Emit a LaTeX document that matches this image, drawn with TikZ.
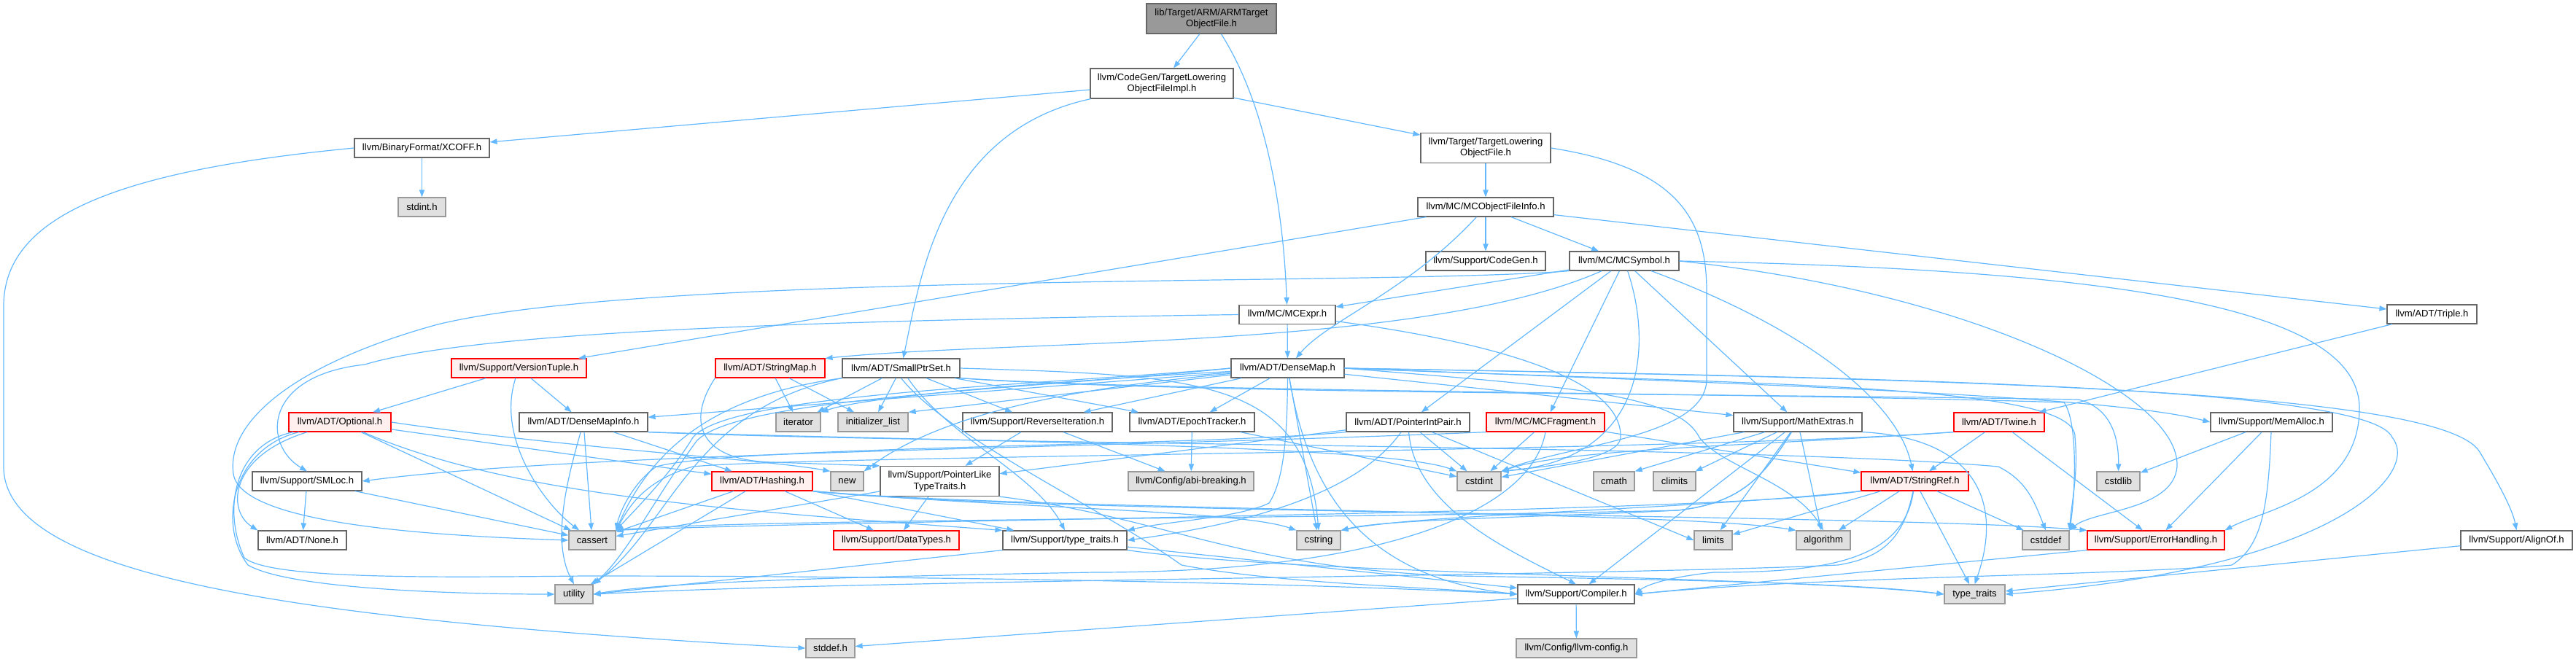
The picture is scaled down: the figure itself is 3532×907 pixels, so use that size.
\documentclass[tikz,border=0pt]{standalone}
\usepackage{fontspec}
\setmainfont{Liberation Sans}
\usetikzlibrary{arrows.meta}
\definecolor{edgec}{HTML}{63B8FF}
\definecolor{grayfill}{HTML}{E0E0E0}
\definecolor{graybord}{HTML}{999999}
\definecolor{redfill}{HTML}{FFF0F0}
\definecolor{whitebord}{HTML}{666666}
\definecolor{rootfill}{HTML}{999999}
\begin{document}
\begin{tikzpicture}[x=0.5pt,y=-0.5pt,
  base/.style={draw, line width=0.6pt, inner sep=0pt, minimum height=13pt, align=center, font=\fontsize{6.55}{7.6}\selectfont},
  wn/.style={base, draw=whitebord, fill=white},
  gn/.style={base, draw=graybord, fill=grayfill},
  rn/.style={base, draw=red, fill=redfill},
  rootn/.style={base, draw=whitebord, fill=rootfill},
  bw/.style={minimum width=#1*0.5pt},
  tall/.style={minimum height=20.5pt},
  ed/.style={draw=edgec, line width=0.6pt, -{Triangle[length=5pt,width=3.6pt]}}
]
\useasboundingbox (0,0) rectangle (3532,907);
% ---------------- nodes ----------------
\node[rootn,bw=178,tall] (root) at (1661,25.5) {lib/Target/ARM/ARMTarget\\ObjectFile.h};
\node[wn,bw=196,tall] (impl) at (1593,114.5) {llvm/CodeGen/TargetLowering\\ObjectFileImpl.h};
\node[wn,bw=185] (xcoff) at (578.5,203) {llvm/BinaryFormat/XCOFF.h};
\node[wn,bw=178,tall] (tlof) at (2037,203) {llvm/Target/TargetLowering\\ObjectFile.h};
\node[gn,bw=65] (stdint) at (578.5,284) {stdint.h};
\node[wn,bw=186] (mcofi) at (2037,284) {llvm/MC/MCObjectFileInfo.h};
\node[wn,bw=164] (cgen) at (2037,358) {llvm/Support/CodeGen.h};
\node[wn,bw=150] (mcsym) at (2227,358) {llvm/MC/MCSymbol.h};
\node[wn,bw=132] (mcexpr) at (1765,431.5) {llvm/MC/MCExpr.h};
\node[wn,bw=123] (triple) at (3334.5,431) {llvm/ADT/Triple.h};
\node[rn,bw=185] (vtuple) at (711.5,505) {llvm/Support/VersionTuple.h};
\node[rn,bw=150] (smap) at (1056,505) {llvm/ADT/StringMap.h};
\node[wn,bw=161] (sptr) at (1235.5,505) {llvm/ADT/SmallPtrSet.h};
\node[wn,bw=155] (dmap) at (1765.5,505) {llvm/ADT/DenseMap.h};
\node[rn,bw=140] (optional) at (466,579) {llvm/ADT/Optional.h};
\node[wn,bw=176] (dmi) at (800,579) {llvm/ADT/DenseMapInfo.h};
\node[gn,bw=61] (iterator) at (1094.5,579) {iterator};
\node[gn,bw=96] (initlist) at (1197,579) {initializer\_list};
\node[wn,bw=205] (reviter) at (1422.5,579) {llvm/Support/ReverseIteration.h};
\node[wn,bw=171] (epoch) at (1634.5,579) {llvm/ADT/EpochTracker.h};
\node[wn,bw=169] (pip) at (1930.5,579) {llvm/ADT/PointerIntPair.h};
\node[rn,bw=162] (mcfrag) at (2119,579) {llvm/MC/MCFragment.h};
\node[wn,bw=176] (mathx) at (2465,579) {llvm/Support/MathExtras.h};
\node[rn,bw=124] (twine) at (2741,579) {llvm/ADT/Twine.h};
\node[wn,bw=167] (memalloc) at (3114.5,579) {llvm/Support/MemAlloc.h};
\node[wn,bw=150] (smloc) at (421,660) {llvm/Support/SMLoc.h};
\node[rn,bw=138] (hashing) at (1045,660) {llvm/ADT/Hashing.h};
\node[gn,bw=45] (nnew) at (1161.5,660) {new};
\node[wn,bw=163,tall] (pltt) at (1288.5,660) {llvm/Support/PointerLike\\TypeTraits.h};
\node[gn,bw=172] (abi) at (1633,660) {llvm/Config/abi-breaking.h};
\node[gn,bw=60] (cstdint) at (2028,660) {cstdint};
\node[gn,bw=56] (cmath) at (2213,660) {cmath};
\node[gn,bw=58] (climits) at (2296,660) {climits};
\node[rn,bw=147] (stringref) at (2625.5,660) {llvm/ADT/StringRef.h};
\node[gn,bw=59] (cstdlib) at (2904.5,660) {cstdlib};
\node[wn,bw=121] (nonen) at (414.5,741) {llvm/ADT/None.h};
\node[gn,bw=64] (cassert) at (812,741) {cassert};
\node[rn,bw=172] (datatypes) at (1229,741) {llvm/Support/DataTypes.h};
\node[wn,bw=170] (sttraits) at (1460,741) {llvm/Support/type\_traits.h};
\node[gn,bw=60] (cstring) at (1808,741) {cstring};
\node[gn,bw=52] (limits) at (2349,741) {limits};
\node[gn,bw=74] (algorithm) at (2500,741) {algorithm};
\node[gn,bw=64] (cstddef) at (2805,741) {cstddef};
\node[rn,bw=188] (errh) at (2956,741) {llvm/Support/ErrorHandling.h};
\node[wn,bw=153] (alignof) at (3450.5,741) {llvm/Support/AlignOf.h};
\node[gn,bw=52] (utility) at (787,815) {utility};
\node[wn,bw=160] (compiler) at (2161,815) {llvm/Support/Compiler.h};
\node[gn,bw=83] (typetraits) at (2707.5,815) {type\_traits};
\node[gn,bw=67] (stddefh) at (1138.5,889) {stddef.h};
\node[gn,bw=165] (llvmconfig) at (2161.5,889) {llvm/Config/llvm-config.h};
% ---------------- edges ----------------
% root
\draw[ed] (root) -- (impl);
\draw[ed] (root) .. controls (1740,150) and (1760,300) .. (mcexpr);
% TLOF impl
\draw[ed] (impl) -- (xcoff);
\draw[ed] (impl) .. controls (1290,180) and (1262,380) .. (sptr);
\draw[ed] (impl) -- (tlof);
% XCOFF
\draw[ed] (xcoff) -- (stdint);
\draw[ed] (xcoff.west) .. controls (150,235) and (5,300) .. (5,420) -- (5,640) .. controls (5,790) and (400,850) .. (stddefh.west);
% TLOF
\draw[ed] (tlof) -- (mcofi);
\draw[ed] (tlof.east) .. controls (2300,230) and (2340,300) .. (2340,400) -- (2340,520) .. controls (2340,600) and (2150,610) .. (cstdint.north east);
% MCObjectFileInfo
\draw[ed] (mcofi) -- (vtuple);
\draw[ed] (mcofi) .. controls (1930,400) and (1820,440) .. (dmap);
\draw[ed] (mcofi) -- (cgen);
\draw[ed] (mcofi) -- (mcsym);
\draw[ed] (mcofi) -- (triple);
% MCSymbol
\draw[ed] (mcsym) -- (mcexpr);
\draw[ed] (mcsym) .. controls (1950,480) and (1400,465) .. (smap.north east);
\draw[ed] (mcsym) -- (pip);
\draw[ed] (mcsym) -- (mcfrag);
\draw[ed] (mcsym) .. controls (2265,470) and (2260,630) .. (cstdint.north east);
\draw[ed] (mcsym) -- (mathx);
\draw[ed] (mcsym) .. controls (2450,440) and (2600,540) .. (stringref);
\draw[ed] (mcsym.east) .. controls (2900,370) and (3235,420) .. (3235,560) .. controls (3235,680) and (3100,700) .. (errh.north east);
\draw[ed] (mcsym.east) .. controls (2700,400) and (2990,540) .. (2985,640) .. controls (2980,700) and (2870,700) .. (cstddef.north east);
\draw[ed] (mcsym.south west) .. controls (1900,392) and (900,372) .. (600,445) .. controls (400,500) and (310,580) .. (320,650) .. controls (330,720) and (600,735) .. (cassert.west);
% MCExpr
\draw[ed] (mcexpr) -- (dmap);
\draw[ed] (mcexpr.west) .. controls (1100,440) and (650,455) .. (500,500) .. controls (360,515) and (360,610) .. (smloc.north);
\draw[ed] (mcexpr) .. controls (2050,470) and (2225,520) .. (2222,600) .. controls (2220,630) and (2120,640) .. (cstdint.north east);
% Triple
\draw[ed] (triple) -- (twine);
% VersionTuple
\draw[ed] (vtuple) -- (optional);
\draw[ed] (vtuple) -- (dmi);
\draw[ed] (vtuple) .. controls (680,600) and (745,690) .. (cassert);
% StringMap
\draw[ed] (smap) -- (iterator);
\draw[ed] (smap) -- (initlist);
\draw[ed] (smap.south west) .. controls (940,580) and (960,632) .. (1060,634) .. controls (1120,636) and (1170,638) .. (pltt.north west);
% SmallPtrSet
\draw[ed] (sptr) -- (epoch);
\draw[ed] (sptr) -- (reviter);
\draw[ed] (sptr) -- (iterator);
\draw[ed] (sptr) -- (initlist);
\draw[ed] (sptr.south west) .. controls (1000,540) and (900,600) .. (cassert.north east);
\draw[ed] (sptr.east) .. controls (1650,515) and (1790,520) .. (cstring.north);
\draw[ed] (sptr.south east) .. controls (1600,540) and (2400,540) .. (2850,548) .. controls (2895,560) and (2905,600) .. (cstdlib);
\draw[ed] (sptr.south east) .. controls (1600,538) and (2400,538) .. (2830,552) .. controls (2850,580) and (2845,680) .. (cstddef.north east);
\draw[ed] (sptr.south west) .. controls (950,560) and (920,720) .. (utility.north east);
\draw[ed] (sptr.south) .. controls (1300,600) and (1500,690) .. (1620,775) .. controls (1750,800) and (1950,805) .. (compiler.west);
\draw[ed] (sptr) .. controls (1300,600) and (1420,650) .. (sttraits.north);
% DenseMap
\draw[ed] (dmap) -- (dmi);
\draw[ed] (dmap) -- (epoch);
\draw[ed] (dmap) -- (reviter);
\draw[ed] (dmap) -- (initlist.north east);
\draw[ed] (dmap) .. controls (1500,520) and (1200,540) .. (iterator.north east);
\draw[ed] (dmap) .. controls (1500,530) and (1300,560) .. (nnew.north east);
\draw[ed] (dmap.west) .. controls (1400,530) and (1000,540) .. (950,600) .. controls (920,650) and (870,700) .. (cassert.north east);
\draw[ed] (dmap.west) .. controls (1400,535) and (1010,545) .. (955,605) .. controls (900,680) and (860,760) .. (utility.north east);
\draw[ed] (dmap) -- (cstring);
\draw[ed] (dmap) .. controls (1790,650) and (1850,790) .. (compiler.west);
\draw[ed] (dmap) -- (mathx);
\draw[ed] (dmap.east) .. controls (2500,530) and (2900,545) .. (memalloc.west);
\draw[ed] (dmap.east) .. controls (2600,518) and (3250,530) .. (3280,600) .. controls (3320,650) and (3200,780) .. (typetraits.east);
\draw[ed] (dmap.east) .. controls (2700,520) and (3350,535) .. (3400,620) .. controls (3430,670) and (3445,700) .. (alignof.north);
\draw[ed] (dmap) .. controls (1765,600) and (1760,660) .. (1740,690) .. controls (1700,710) and (1600,715) .. (sttraits.north east);
\draw[ed] (dmap.east) .. controls (2150,530) and (2300,540) .. (2330,600) .. controls (2360,640) and (2460,660) .. (algorithm.north);
\draw[ed] (dmap.east) .. controls (2400,528) and (2850,525) .. (2845,600) .. controls (2850,650) and (2840,690) .. (cstddef.north east);
% Optional
\draw[ed] (optional) -- (hashing);
\draw[ed] (optional) .. controls (315,625) and (310,700) .. (nonen.north west);
\draw[ed] (optional) .. controls (320,610) and (305,700) .. (335,765) .. controls (370,795) and (600,792) .. (800,790) .. controls (1300,790) and (1800,800) .. (compiler.west);
\draw[ed] (optional) .. controls (700,680) and (1000,700) .. (sttraits.north west);
\draw[ed] (optional) -- (cassert);
\draw[ed] (optional.east) .. controls (780,615) and (1050,630) .. (nnew.north west);
\draw[ed] (optional) .. controls (318,615) and (298,720) .. (340,775) .. controls (400,810) and (650,815) .. (utility.west);
% DenseMapInfo
\draw[ed] (dmi) -- (hashing);
\draw[ed] (dmi) -- (cassert);
\draw[ed] (dmi) .. controls (780,650) and (755,740) .. (utility.north);
\draw[ed] (dmi.south east) .. controls (1300,605) and (1900,610) .. (cstdint.north west);
\draw[ed] (dmi.south east) .. controls (1300,610) and (2400,610) .. (2740,640) .. controls (2780,660) and (2790,690) .. (cstddef.north);
% ReverseIteration, EpochTracker
\draw[ed] (reviter) -- (pltt);
\draw[ed] (reviter) -- (abi);
\draw[ed] (epoch) -- (abi);
\draw[ed] (epoch) -- (cstdint);
% PointerIntPair
\draw[ed] (pip) -- (pltt);
\draw[ed] (pip) .. controls (1860,680) and (1700,720) .. (sttraits.east);
\draw[ed] (pip.south west) .. controls (1650,612) and (1000,612) .. (900,640) .. controls (870,660) and (850,700) .. (cassert.north east);
\draw[ed] (pip) -- (cstdint);
\draw[ed] (pip) .. controls (1940,700) and (2080,760) .. (compiler.north);
\draw[ed] (pip) -- (limits.west);
% MCFragment
\draw[ed] (mcfrag.south west) .. controls (1500,615) and (800,620) .. (smloc.east);
\draw[ed] (mcfrag) -- (stringref);
\draw[ed] (mcfrag) -- (cstdint);
\draw[ed] (mcfrag.south) .. controls (2100,700) and (1900,785) .. (1500,785) .. controls (1100,792) and (900,800) .. (utility.east);
% MathExtras
\draw[ed] (mathx) -- (compiler);
\draw[ed] (mathx) .. controls (2420,650) and (2390,690) .. (2300,700) .. controls (1800,712) and (1000,712) .. (cassert.north east);
\draw[ed] (mathx) -- (climits);
\draw[ed] (mathx) -- (cmath.north east);
\draw[ed] (mathx) -- (cstdint);
\draw[ed] (mathx) .. controls (2420,650) and (2390,690) .. (2300,700) .. controls (2100,710) and (1900,712) .. (cstring.north east);
\draw[ed] (mathx) -- (limits);
\draw[ed] (mathx.south east) .. controls (2700,600) and (2750,680) .. (typetraits.north);
\draw[ed] (mathx) -- (algorithm);
% Twine
\draw[ed] (twine) -- (stringref);
\draw[ed] (twine) -- (errh);
\draw[ed] (twine.south west) .. controls (2300,620) and (1100,625) .. (950,640) .. controls (880,660) and (860,700) .. (cassert.north east);
\draw[ed] (twine.south west) .. controls (2400,612) and (2150,615) .. (cstdint.north east);
% MemAlloc
\draw[ed] (memalloc) -- (cstdlib);
\draw[ed] (memalloc) -- (errh);
\draw[ed] (memalloc) .. controls (3110,700) and (3100,750) .. (3060,775) .. controls (2900,790) and (2500,790) .. (compiler.east);
% SMLoc
\draw[ed] (smloc) -- (nonen);
\draw[ed] (smloc) -- (cassert);
% Hashing
\draw[ed] (hashing) -- (datatypes);
\draw[ed] (hashing) -- (cassert);
\draw[ed] (hashing) -- (utility);
\draw[ed] (hashing) -- (sttraits);
\draw[ed] (hashing.south east) .. controls (1400,705) and (2600,705) .. (errh.north west);
\draw[ed] (hashing.south east) .. controls (1400,700) and (2300,700) .. (algorithm.north west);
\draw[ed] (hashing.south east) .. controls (1400,698) and (1700,700) .. (cstring.north west);
% PointerLikeTypeTraits
\draw[ed] (pltt) -- (datatypes);
\draw[ed] (pltt) -- (cassert);
\draw[ed] (pltt.south east) .. controls (1600,710) and (1700,780) .. (2000,790) .. controls (2300,795) and (2550,800) .. (typetraits.west);
% StringRef
\draw[ed] (stringref) .. controls (2610,770) and (2500,785) .. (2350,785) .. controls (2300,790) and (2260,800) .. (compiler.east);
\draw[ed] (stringref) -- (limits);
\draw[ed] (stringref) -- (algorithm);
\draw[ed] (stringref) -- (cstddef);
\draw[ed] (stringref) -- (typetraits);
\draw[ed] (stringref.south west) .. controls (2350,705) and (1200,712) .. (cassert.north east);
\draw[ed] (stringref.south west) .. controls (2300,700) and (1950,705) .. (cstring.north east);
\draw[ed] (stringref) .. controls (2610,740) and (2580,765) .. (2520,775) .. controls (2200,790) and (1200,795) .. (utility.east);
% ErrorHandling, AlignOf
\draw[ed] (errh.south west) -- (compiler.east);
\draw[ed] (alignof) -- (typetraits);
% Support/type_traits
\draw[ed] (sttraits) -- (compiler);
\draw[ed] (sttraits.south east) .. controls (1800,790) and (2450,790) .. (typetraits.west);
\draw[ed] (sttraits.south west) -- (utility.east);
% Compiler
\draw[ed] (compiler) -- (llvmconfig);
\draw[ed] (compiler) -- (stddefh);
\end{tikzpicture}
\end{document}
